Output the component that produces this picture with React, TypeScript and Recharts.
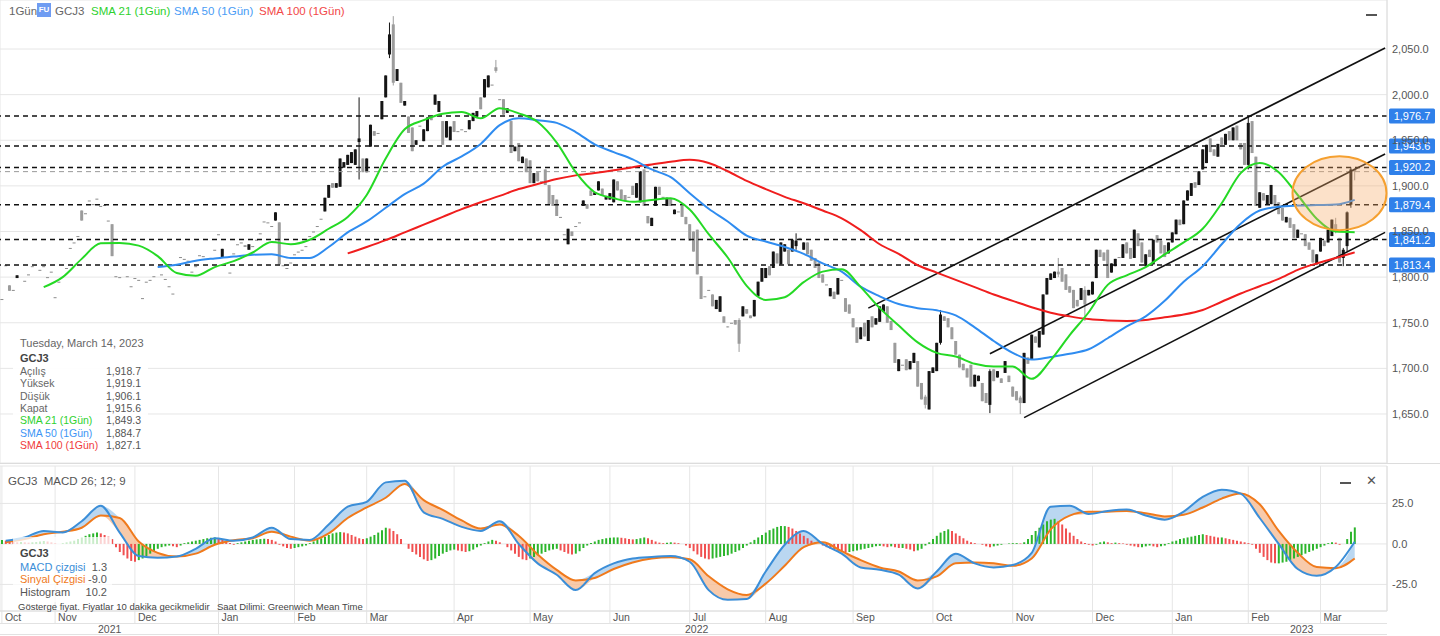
import React from 'react'
import {
  ComposedChart,
  Bar,
  Line,
  Area,
  XAxis,
  YAxis,
  CartesianGrid,
  ReferenceLine,
  ReferenceDot,
  Cell,
} from 'recharts'

const FONT = "'Liberation Sans', Arial, sans-serif"

// one slot per trading day, Oct 12 2021 .. Mar 14 2023, plus empty slots on the right
const SLOTS = 365
const monthStarts = [0, 14, 35, 57, 77, 96, 119, 139, 160, 181, 201, 224, 245, 266, 287, 308, 328, 347]
const monthNames = ['Oct', 'Nov', 'Dec', 'Jan', 'Feb', 'Mar', 'Apr', 'May', 'Jun', 'Jul', 'Aug', 'Sep', 'Oct', 'Nov', 'Dec', 'Jan', 'Feb', 'Mar']

// candles: [price] = single print, [open, close], or [open, high, low, close]
type K = number[] | null
const oct21: K[] = [[1776], [1813], [1791, 1785], [1786], [1799, 1802], null, [1796], [1803], [1812], null, [1808], [1812], [1800], [1806]]
const nov21: K[] = [[1778], [1795], null, [1810], [1832], [1838], [1845], [1873, 1862], [1870], [1884], [1880], [1886], [1878], [1879], [1862], [1858, 1823], [1801], [1800], null, [1801], [1790]]
const dec21: K[] = [[1799], [1797], [1777], [1795], [1797], [1801], null, [1803], [1798], [1790], [1782], null, [1822], [1820], [1818], [1806], [1812], [1824], [1823], null, [1821], [1830]]
const jan22: K[] = [[1847], [1821, 1831], null, [1805], [1826], [1836], [1838], [1835, 1833], [1830, 1836], [1834], [1841], [1848], [1861], [1860], [1856], [1862, 1871], [1860, 1814], [1813], [1810], [1816]]
const feb22: K[] = [[1825], [1828], [1830], [1834], [1845], [1850], [1856], [1864], [1872, 1887], [1887, 1901], [1903, 1898], [1898, 1903], [1899, 1930], [1920, 1926], [1923, 1934], [1925, 1937], [1923, 1940], [1948, 1997, 1907, 1952], [1930, 1915]]
const mar22: K[] = [[1915, 1930], [1943, 1967], [1960, 1955], [1958], [1973, 1993], [1997, 2021], [2044, 2079, 2040, 2066], [2077, 2086, 2010, 2013], [2015, 2028], [2013, 1991], [1988, 1993], [1976, 1958], [1964, 1938], [1945, 1950], [1966], [1949, 1962], [1960, 1975], [1975, 1972], [1989, 2000], [1981, 1993], [1971, 1945], [1953, 1971], [1950, 1965]]
const apr22: K[] = [[1971, 1959], [1960], [1962], [1960], [1962, 1972], [1971, 1980], [1976, 1982], [1997, 1984], [1997, 2017], [2008, 2021], [2011], [2030, 2038, 2024, 2026], [1995], [1995, 1978], [1980, 1985], [1971, 1936], [1938, 1943], [1947, 1927], [1925, 1932], [1930, 1915]]
const may22: K[] = [[1928, 1903], [1903, 1914], [1915, 1905], [1905], [1918, 1901], [1901, 1880], [1890, 1878], [1885, 1867], [1866], [1847], [1836, 1853], [1850, 1845], [1856], [1860], [1878, 1884], [1880, 1875], [1895, 1889], [1890, 1893], [1895, 1905], [1897, 1889], [1885, 1889]]
const jun22: K[] = [[1885, 1892], [1882, 1907], [1905, 1895], [1896, 1885], [1890, 1883], [1888], [1900, 1890], [1887, 1903], [1882, 1916], [1918, 1878], [1867, 1859], [1856, 1865], [1878, 1899], [1899, 1890], [1888], [1878, 1887], [1886, 1878], [1869, 1874], [1872], [1878, 1866], [1866, 1858]]
const jul22: K[] = [[1858, 1840], [1850, 1828], [1852, 1803], [1801, 1776], [1779], [1786], [1781, 1768], [1765, 1775], [1762, 1779], [1757, 1750], [1746, 1745], [1750], [1753, 1748], [1753, 1755, 1718, 1727], [1757, 1768], [1765, 1760], [1758, 1755], [1757, 1775], [1779, 1795], [1795, 1810]]
const aug22: K[] = [[1799, 1810], [1812, 1802], [1810, 1828], [1826, 1815], [1814, 1838], [1828, 1836], [1830, 1814], [1828, 1841], [1834, 1848, 1830, 1840], [1843], [1830, 1838], [1838, 1825], [1830, 1818], [1821, 1810], [1816, 1799], [1803, 1794], [1792], [1779, 1788], [1784, 1776], [1781, 1799], [1797], [1777, 1762], [1770, 1760]]
const sep22: K[] = [[1755, 1745], [1745, 1728], [1732, 1745], [1750, 1735], [1730, 1753], [1757, 1745], [1748, 1755], [1751, 1768], [1762, 1770], [1768, 1750], [1752, 1742], [1728, 1706], [1697, 1710], [1704], [1710, 1698], [1699, 1708], [1706, 1717], [1708, 1680], [1684, 1666], [1669, 1671, 1656, 1660], [1655, 1697]]
const oct22: K[] = [[1695, 1701], [1697, 1728], [1728, 1764, 1726, 1759], [1757, 1752], [1755, 1745], [1745, 1732], [1730, 1715], [1715, 1701], [1705, 1698], [1700, 1690], [1704, 1680], [1680, 1693], [1686, 1692], [1684, 1664], [1673, 1662], [1660, 1699, 1651, 1697], [1699, 1686], [1690, 1697], [1689, 1684], [1695, 1708], [1692, 1685]]
const nov22: K[] = [[1680, 1669], [1675, 1665], [1668, 1670, 1650, 1662], [1662, 1717], [1712, 1705], [1710, 1737], [1735, 1728], [1723, 1741], [1737, 1781], [1781, 1799], [1797, 1804], [1799, 1806], [1806, 1821, 1800, 1803], [1810, 1795], [1803, 1786], [1790, 1783], [1786, 1766], [1775, 1768], [1775, 1788], [1786, 1790, 1752, 1770], [1780, 1786]]
const dec22: K[] = [[1781, 1795], [1799, 1830], [1830, 1822], [1827, 1818], [1830, 1799], [1805, 1815], [1812, 1820], [1822], [1821, 1836], [1838, 1826], [1832, 1820], [1821, 1852], [1848, 1834], [1838, 1816], [1812, 1825], [1830, 1822], [1814, 1841], [1846, 1838], [1840, 1826], [1835, 1822], [1826, 1838]]
const jan23: K[] = [[1838, 1849], [1847, 1863], [1863, 1857], [1858, 1884], [1884, 1895], [1889, 1903], [1904, 1898], [1901, 1916], [1918, 1940], [1925, 1945], [1952, 1937], [1940, 1933], [1932, 1946], [1953, 1945], [1945, 1957], [1960, 1950], [1950, 1964], [1966, 1950], [1947, 1940], [1947, 1923]]
const feb23: K[] = [[1923, 1976, 1918, 1969], [1971, 1936], [1932, 1878], [1876, 1893], [1892, 1884], [1880, 1890], [1880, 1901], [1890, 1878], [1882, 1869], [1876, 1862], [1860, 1866], [1865, 1854], [1858, 1843], [1843, 1852], [1848], [1847, 1834], [1838, 1830], [1830, 1816], [1814, 1825]]
const mar23: K[] = [[1828, 1843], [1840, 1834], [1838, 1852], [1845, 1863], [1858, 1865, 1848, 1850], [1843, 1816], [1821, 1832, 1812, 1830], [1834, 1872, 1828, 1871], [1879.4, 1920.2, 1876, 1918], [1918.7, 1919.1, 1906.1, 1915.6]]

const candles: K[] = [
  ...oct21, ...nov21, ...dec21, ...jan22, ...feb22, ...mar22, ...apr22, ...may22, ...jun22,
  ...jul22, ...aug22, ...sep22, ...oct22, ...nov22, ...dec22, ...jan23, ...feb23, ...mar23,
]

// moving averages, one reading every 5 trading days
const STEP = 5
const SMA21_START = 11
const sma21 = [1789, 1800, 1820, 1837, 1837.5, 1834.5, 1823, 1804.5, 1801.5, 1811, 1817.5, 1827, 1838.5, 1836, 1841, 1853, 1866, 1890, 1930, 1962, 1972, 1979, 1981, 1974, 1985, 1979.5, 1970, 1947.5, 1915, 1893, 1886.5, 1882.5, 1884.5, 1886.5, 1874, 1847, 1821.5, 1790.5, 1775, 1778, 1794.5, 1806, 1808.5, 1789, 1766, 1747, 1728.5, 1717, 1713, 1705, 1702, 1702, 1688.5, 1709, 1736.5, 1761.5, 1791.5, 1802, 1811, 1825, 1838, 1853, 1881, 1914, 1925, 1915, 1890, 1864, 1850, 1849.3]
const SMA50_START = 41
const sma50 = [1811, 1813.5, 1818, 1820.5, 1822.5, 1824.5, 1825, 1821, 1821, 1833, 1849, 1861, 1876, 1891, 1902.5, 1921, 1932.3, 1946, 1966.5, 1974, 1972, 1969, 1959, 1945.5, 1937, 1929, 1918, 1909.5, 1892, 1875, 1861, 1845.5, 1839, 1833, 1825.5, 1815, 1806, 1789.5, 1779, 1770.5, 1766, 1763.6, 1758, 1745, 1730, 1717, 1709.6, 1712.5, 1716, 1721, 1733, 1746, 1757, 1774, 1795, 1812, 1836, 1858.5, 1873, 1877, 1878.4, 1879, 1879.5, 1884.7]
const SMA100_START = 91
const sma100 = [1826, 1833, 1840.5, 1849, 1857.5, 1866, 1874.5, 1882, 1889, 1896.5, 1902, 1907.5, 1911.5, 1914, 1917, 1920.5, 1923.5, 1926.5, 1928.5, 1925, 1916, 1905.5, 1896.5, 1888, 1881, 1873, 1864.5, 1851.5, 1836, 1825.5, 1813, 1805, 1797, 1789, 1781, 1774, 1767, 1761, 1757, 1754, 1752.5, 1752, 1753, 1756, 1759, 1764, 1773, 1782, 1790, 1798, 1808, 1815, 1821, 1827.1]

// MACD 26;12;9
const MACD_START = 1
const macdLine = [2, 4, 8, 7, 14, 23.5, 7, -7.5, -8.6, -7.8, -3, 3.5, 2, 4, 10, 3, 2.5, 12, 23, 26, 38, 39, 19.5, 15.5, 10.5, 8, 14, 0, -12, -19, -28.5, -18, -12, -9, -8, -7.5, -11, -28.5, -34.5, -34, -17, -0.5, 8, 0, -6, -14.5, -16, -19, -27.5, -17, -6, -12, -14.5, -13, -5.5, 23, 23.5, 18.5, 20.3, 21.2, 17.6, 15, 20, 29, 33.5, 31, 16, 0, -15.5, -19.7, -14.3, 1.3]
const signalLine = [1, 3, 6, 7.5, 10, 17.5, 16, 1.5, -5.5, -7.8, -6, -0.5, 2.3, 3.5, 7.5, 4.5, 2, 6.5, 16, 22.5, 28.5, 37, 27, 21, 14.5, 9.5, 12, 5, -6.5, -16, -22.5, -21, -15.5, -11.5, -9, -8.2, -9.5, -20, -28, -31.5, -24.5, -13.5, -2, 1, -4.5, -10, -14.5, -17, -22.5, -20, -12, -11.5, -12, -13.5, -9, 9, 17.5, 19.8, 19.9, 20.4, 19, 17, 18, 22.5, 28, 31.2, 24.5, 8, -5.5, -14.3, -15, -9.0]
const histogram = [
  2.5, 2, 1.5, 1.2, 1, 1.2, 1, 0.8, 1, 1.2,
  1.5, 1.8, 1.5, 1, 0.5, 0, 0.5, 1, 1.5, 2,
  3, 4, 5, 6, 6.5, 7, 6.5, 5.5, 4.5, 3,
  -2, -5, -7, -9, -10.5, -11, -10, -9, -7.5, -6,
  -4.5, -3, -2, -1.5, -1, -1.5, -2, -1, 0.5, 1,
  1.5, 2, 2.5, 3, 3.5, 3.8, 4, 3.5, 2.5, 1.5,
  0.5, -0.5, 0.5, 1, 1.5, 2, 2.5, 2.8, 3, 3.2,
  3, 2.5, 1.5, -0.5, -1.5, -2.5, -3, -2.5, -2, -1.5,
  -1, 0.5, 1.5, 2.5, 3.5, 4.5, 5.5, 6.5, 7, 7.3,
  7, 6.5, 5.5, 4.5, 3.5, 3, 3.5, 4.5, 5.5, 7,
  8.5, 10, 9.5, 8, 6, 3, 0, -3, -5, -6.5,
  -8, -9.5, -10.5, -10, -9, -7.5, -6, -5, -4, -3.5,
  -4, -4.5, -5, -4.5, -3.5, -2, -1, 0.5, 1.5, 2.5,
  2, 1, 0, -2, -4, -6, -8, -9.5, -10, -9,
  -8, -7, -6, -5, -4, -3.5, -3, -4, -5, -6,
  -6.5, -6, -4.5, -2.5, -1, 0.5, 1.5, 2.5, 3, 3.5,
  3.8, 4, 4, 3.8, 3.5, 3, 2.8, 3, 3.5, 4,
  3.5, 2.5, 1.5, 0.8, 0.5, 0.8, 1, 0.8, 0.5, 0,
  -1, -2.5, -4.5, -6.5, -8, -9, -9.5, -9, -8.5, -8,
  -7.5, -7, -6, -5, -4, -2.5, -1, 1, 2.5, 4,
  5.5, 7, 8.5, 9.5, 10.5, 11, 11, 10.5, 9.5, 8,
  6.5, 5, 3.5, 2, 1, 0, -1, -2, -3, -3.5,
  -4, -4.5, -5, -5, -4.5, -4, -3.5, -3, -2.5, -2,
  -1.5, -1.2, -1.5, -2, -1.5, -2, -2.5, -2.5, -3, -3.5,
  -4.5, -4, -3, -1, 1, 3, 5, 7, 8, 9,
  8, 6.5, 5, 3.5, 2, 1, 0.5, 0, -0.5, -1.5,
  -2, -1.5, -1, -0.5, 0, 0.3, 0.5, 0.5, 0.3, 1,
  3, 5.5, 8, 10, 12, 14, 15, 15.5, 14, 12,
  9.5, 7, 5, 3, 1.5, 0.5, -0.5, -1, -0.5, 1,
  1.5, 1, 0.5, 0.8, 0.5, 0.3, -0.5, -1, -1.5, -2,
  -2, -1.5, -1, -1.5, -2, -1.5, -1, 0.5, 1.5, 2,
  3, 3.5, 4, 4.5, 5, 5.5, 6, 5.5, 5, 4.5,
  4, 4, 3.5, 3, 2.5, 2, 1.5, 1, 0.5, -0.5,
  -3, -5.5, -8, -10, -11.5, -12, -12, -11.5, -11, -10,
  -9, -8, -7, -6, -5, -4, -3, -2, -1, 0.5,
  1, 0.8, -0.5, 0, 3, 7.5, 10.2,
]

const priceTicks = [1650, 1700, 1750, 1800, 1850, 1900, 1950, 2000, 2050]
const levels = [1976.7, 1943.6, 1920.2, 1879.4, 1841.2, 1813.4]
const lastPrice = 1915.6
// trend channel: [slot, price] endpoints
const channels = [
  [[228, 1766], [364, 2051]],
  [[260, 1716], [364, 1935]],
  [[269, 1646], [364, 1849]],
]
const highlight = { slot: 352, price: 1892 }

const pick = (arr: number[], start: number, i: number) => {
  const k = (i - start) / STEP
  return i >= start && Number.isInteger(k) && k < arr.length ? arr[k] : null
}

const rows = Array.from({ length: SLOTS }, (_, i) => {
  const k = candles[i]
  let o: any = null, h: any = null, l: any = null, c: any = null
  if (k) {
    if (k.length === 1) { o = h = l = c = k[0] }
    else if (k.length === 2) { o = k[0]; c = k[1]; h = Math.max(o, c); l = Math.min(o, c) }
    else { o = k[0]; h = k[1]; l = k[2]; c = k[3] }
  }
  const m = pick(macdLine, MACD_START, i)
  const s = pick(signalLine, MACD_START, i)
  const hv = i < histogram.length ? histogram[i] : null
  return {
    i, o, h, l, c,
    range: k ? (h - l < 0.6 ? [l - 0.3, h + 0.3] : [l, h]) : null,
    s21: pick(sma21, SMA21_START, i),
    s50: pick(sma50, SMA50_START, i),
    s100: pick(sma100, SMA100_START, i),
    macd: m,
    signal: s,
    up: m != null && s != null ? [s, Math.max(m, s)] : null,
    down: m != null && s != null ? [Math.min(m, s), s] : null,
    hist: hv,
    rising: hv != null && (i === 0 || hv >= histogram[i - 1]),
  }
})

const Candle = (p: any) => {
  let { x, y, width, height } = p
  const d = p.payload
  if (!d || d.o == null || !isFinite(y) || !height) return null
  if (height < 0) { y += height; height = -height }
  const [lo, hi] = d.range
  const k = height / (hi - lo)
  const py = (v: number) => y + (hi - v) * k
  const cx = x + width / 2
  const flat = d.o === d.c
  const color = flat ? '#8c8c8c' : d.c > d.o ? '#151515' : '#9c9c9c'
  const top = py(Math.max(d.o, d.c))
  const bot = py(Math.min(d.o, d.c))
  const bw = Math.max(2, width)
  return (
    <g>
      {d.h > d.l && <line x1={cx} x2={cx} y1={py(d.h)} y2={py(d.l)} stroke={color} strokeWidth={1} />}
      <rect x={cx - bw / 2} y={top} width={bw} height={Math.max(1, bot - top)} fill={color} />
    </g>
  )
}

const LevelTag = (p: any) => {
  const vb = p.viewBox
  if (!vb) return null
  const x = vb.x + vb.width + 2
  return (
    <g>
      <rect x={x} y={vb.y - 7.5} width={46} height={15} rx={1.5} fill="#2f80ea" />
      <text x={x + 23} y={vb.y + 4} textAnchor="middle" fontSize={11} fill="#fff" fontFamily={FONT}>{p.txt}</text>
    </g>
  )
}

const MonthTick = (p: any) => {
  const { x, y, payload } = p
  const label = monthNames[monthStarts.indexOf(payload.value)]
  return (
    <g>
      <line x1={x} x2={x} y1={y} y2={y + 12} stroke="#e2e2e2" />
      {label === 'Jan' && <line x1={x} x2={x} y1={y + 12} y2={y + 23} stroke="#e2e2e2" />}
      <text x={x + 3} y={y + 10} fontSize={10.5} fill="#555" fontFamily={FONT}>{label}</text>
    </g>
  )
}

const fmtPrice = (v: number) => v.toLocaleString('en-US', { minimumFractionDigits: 1, maximumFractionDigits: 1 })

const txt = (left: number, top: number, s: string, color = '#666', extra: any = {}) => (
  <div style={{ position: 'absolute', left, top, color, fontSize: 11.5, lineHeight: '14px', whiteSpace: 'nowrap', ...extra }}>{s}</div>
)

const infoRows = [
  ['Açılış', '1,918.7', '#666'],
  ['Yüksek', '1,919.1', '#666'],
  ['Düşük', '1,906.1', '#666'],
  ['Kapat', '1,915.6', '#666'],
  ['SMA 21 (1Gün)', '1,849.3', '#2ed12e'],
  ['SMA 50 (1Gün)', '1,884.7', '#3d95f5'],
  ['SMA 100 (1Gün)', '1,827.1', '#f03a3a'],
]

export default function App() {
  return (
    <div style={{ position: 'absolute', left: 0, top: 0, width: 1440, height: 636, background: '#fff', fontFamily: FONT, overflow: 'hidden' }}>
      <div style={{ position: 'absolute', left: 0, top: 0 }}>
        <ComposedChart width={1440} height={463} data={rows} margin={{ top: 0, right: 0, bottom: 0, left: 0 }} barCategoryGap="10%">
          <CartesianGrid stroke="#e6e6e6" />
          <XAxis dataKey="i" ticks={monthStarts} interval={0} tick={false} tickLine={false} axisLine={false} height={0} />
          <YAxis
            orientation="right"
            width={53}
            domain={[1596.3, 2103.7]}
            ticks={priceTicks}
            allowDataOverflow
            tickFormatter={fmtPrice}
            tick={{ fontSize: 11, fill: '#555' }}
            tickSize={0}
            tickMargin={5}
            axisLine={{ stroke: '#dedede' }}
            tickLine={false}
          />
          <Bar dataKey="range" shape={Candle} isAnimationActive={false} />
          <ReferenceLine y={lastPrice} stroke="#9a9a9a" strokeDasharray="5 4" strokeWidth={1} />
          {levels.map((v) => (
            <ReferenceLine key={v} y={v} stroke="#111" strokeDasharray="5 4" strokeWidth={1.5} label={<LevelTag txt={fmtPrice(v)} />} />
          ))}
          {channels.map((seg, n) => (
            <ReferenceLine
              key={n}
              segment={[{ x: seg[0][0], y: seg[0][1] }, { x: seg[1][0], y: seg[1][1] }]}
              stroke="#111"
              strokeWidth={1.6}
            />
          ))}
          <ReferenceDot
            x={highlight.slot}
            y={highlight.price}
            r={1}
            shape={(p: any) => (
              <ellipse cx={p.cx} cy={p.cy} rx={47} ry={37} fill="rgba(247,170,100,0.35)" stroke="#f5a030" strokeWidth={2} />
            )}
          />
          <Line dataKey="s100" type="monotone" stroke="#f01e1e" strokeWidth={2} dot={false} connectNulls isAnimationActive={false} />
          <Line dataKey="s50" type="monotone" stroke="#2f8cf0" strokeWidth={2} dot={false} connectNulls isAnimationActive={false} />
          <Line dataKey="s21" type="monotone" stroke="#25d925" strokeWidth={2} dot={false} connectNulls isAnimationActive={false} />
        </ComposedChart>
      </div>

      <div style={{ position: 'absolute', left: 0, top: 463, width: 1440, height: 1, background: '#dcdcdc' }} />

      <div style={{ position: 'absolute', left: 0, top: 463 }}>
        <ComposedChart width={1440} height={173} data={rows} margin={{ top: 3, right: 0, bottom: 13, left: 0 }}>
          <CartesianGrid stroke="#e6e6e6" />
          <XAxis
            dataKey="i"
            ticks={monthStarts}
            interval={0}
            height={12}
            tick={<MonthTick />}
            tickSize={0}
            tickMargin={0}
            tickLine={false}
            axisLine={{ stroke: '#dedede' }}
          />
          <YAxis
            orientation="right"
            width={53}
            domain={[-41.4, 48.1]}
            ticks={[-25, 0, 25]}
            allowDataOverflow
            tickFormatter={(v: number) => v.toFixed(1)}
            tick={{ fontSize: 11, fill: '#555' }}
            tickSize={0}
            tickMargin={5}
            axisLine={{ stroke: '#dedede' }}
            tickLine={false}
          />
          <Area dataKey="up" type="monotone" stroke="none" fill="#a9cdee" fillOpacity={0.8} connectNulls isAnimationActive={false} />
          <Area dataKey="down" type="monotone" stroke="none" fill="#f6bd95" fillOpacity={0.8} connectNulls isAnimationActive={false} />
          <Bar dataKey="hist" barSize={2} isAnimationActive={false}>
            {rows.map((r) => (
              <Cell key={r.i} fill={r.rising ? '#2cb52c' : '#f05050'} />
            ))}
          </Bar>
          <Line dataKey="signal" type="monotone" stroke="#f07a1c" strokeWidth={2} dot={false} connectNulls isAnimationActive={false} />
          <Line dataKey="macd" type="monotone" stroke="#3b8ed8" strokeWidth={2} dot={false} connectNulls isAnimationActive={false} />
        </ComposedChart>
      </div>

      {/* axis rows */}
      <div style={{ position: 'absolute', left: 0, top: 623, width: 1387, height: 1, background: '#e2e2e2' }} />
      <div style={{ position: 'absolute', left: 0, top: 634, width: 1387, height: 1, background: '#e2e2e2' }} />
      {txt(98, 623, '2021', '#555', { fontSize: 10.5, lineHeight: '12px' })}
      {txt(685, 623, '2022', '#555', { fontSize: 10.5, lineHeight: '12px' })}
      {txt(1290, 623, '2023', '#555', { fontSize: 10.5, lineHeight: '12px' })}

      {/* legend */}
      {txt(9, 4, '1Gün')}
      <div style={{ position: 'absolute', left: 37, top: 3, width: 14, height: 14, background: '#6f9cf2', color: '#fff', fontSize: 8, lineHeight: '14px', textAlign: 'center', fontWeight: 'bold' }}>FU</div>
      {txt(55, 4, 'GCJ3')}
      {txt(91, 4, 'SMA 21 (1Gün)', '#2ed12e')}
      {txt(174, 4, 'SMA 50 (1Gün)', '#4a9cf5')}
      {txt(259, 4, 'SMA 100 (1Gün)', '#f24848')}
      <div style={{ position: 'absolute', left: 1366, top: 14, width: 11, height: 1.5, background: '#555' }} />

      {/* info panel */}
      <div style={{ position: 'absolute', left: 13, top: 334, width: 135, height: 122, background: 'rgba(255,255,255,0.92)' }} />
      {txt(20, 336, 'Tuesday, March 14, 2023', '#666', { fontSize: 11 })}
      {txt(20, 351, 'GCJ3', '#444', { fontSize: 11, fontWeight: 'bold' })}
      {infoRows.map((r, n) => (
        <React.Fragment key={r[0]}>
          {txt(20, 365 + n * 12.3, r[0], r[2], { fontSize: 10.5, lineHeight: '12px' })}
          <div style={{ position: 'absolute', left: 60, width: 81, top: 365 + n * 12.3, textAlign: 'right', color: '#555', fontSize: 10.5, lineHeight: '12px' }}>{r[1]}</div>
        </React.Fragment>
      ))}

      {/* MACD labels */}
      {txt(8, 474, 'GCJ3  MACD 26; 12; 9', '#555', { whiteSpace: 'pre' })}
      <div style={{ position: 'absolute', left: 1340, top: 482, width: 11, height: 1.5, background: '#555' }} />
      {txt(1366, 474, '✕', '#555', { fontSize: 13 })}
      <div style={{ position: 'absolute', left: 13, top: 537, width: 99, height: 65, background: 'rgba(255,255,255,0.75)' }} />
      {txt(20, 546, 'GCJ3', '#444', { fontSize: 11, fontWeight: 'bold' })}
      {txt(20, 560, 'MACD çizgisi', '#3b8ed8', { fontSize: 11 })}
      {txt(20, 572, 'Sinyal Çizgisi', '#f07a1c', { fontSize: 11 })}
      {txt(20, 585, 'Histogram', '#555', { fontSize: 11 })}
      <div style={{ position: 'absolute', left: 80, width: 27, top: 560, textAlign: 'right', color: '#555', fontSize: 11, lineHeight: '14px' }}>1.3</div>
      <div style={{ position: 'absolute', left: 80, width: 27, top: 572, textAlign: 'right', color: '#555', fontSize: 11, lineHeight: '14px' }}>-9.0</div>
      <div style={{ position: 'absolute', left: 80, width: 27, top: 585, textAlign: 'right', color: '#555', fontSize: 11, lineHeight: '14px' }}>10.2</div>
      {txt(18, 601, 'Gösterge fiyat. Fiyatlar 10 dakika gecikmelidir', '#444', { fontSize: 9.5, lineHeight: '11px' })}
      {txt(217, 601, 'Saat Dilimi: Greenwich Mean Time', '#444', { fontSize: 9.5, lineHeight: '11px' })}
    </div>
  )
}
